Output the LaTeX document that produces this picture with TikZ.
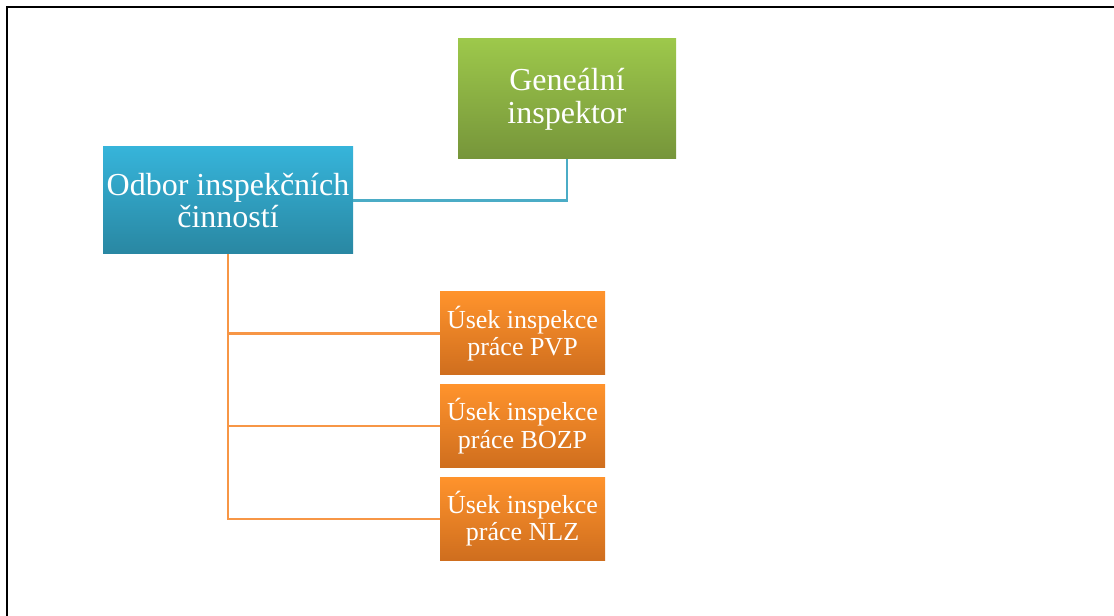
\documentclass[tikz,border=0pt]{standalone}
\usepackage{fontspec}
\setmainfont{Liberation Serif}
\usepackage{tikz}
\usetikzlibrary{positioning}

\definecolor{gentop}{HTML}{9DC84B}
\definecolor{genbot}{HTML}{76953A}
\definecolor{odbtop}{HTML}{36B4DA}
\definecolor{odbbot}{HTML}{2987A2}
\definecolor{usetop}{HTML}{FF932C}
\definecolor{usebot}{HTML}{CF6E1E}
\definecolor{bluelink}{HTML}{4BACC6}
\definecolor{orangelink}{HTML}{F79646}

\begin{document}
\begin{tikzpicture}[x=0.75pt, y=-0.75pt, node distance=6.75pt,
        block/.style={rectangle, text=white, align=center, inner sep=0pt},
        bigblock/.style={block, font=\fontsize{24pt}{24.5pt}\selectfont},
        gen/.style={bigblock, top color=gentop, bottom color=genbot, minimum width=163.5pt, minimum height=90pt},
        odbor/.style={bigblock, top color=odbtop, bottom color=odbbot, minimum width=187.5pt, minimum height=80.25pt},
        usek/.style={block, top color=usetop, bottom color=usebot, minimum width=123.75pt, minimum height=62.25pt,
            font=\fontsize{19.5pt}{20.5pt}\selectfont},
        link/.style={line width=1.6pt}]
        \useasboundingbox (0,0) rectangle (1114,616);
        \draw[line width=1.6pt] (7,640) |- (1140,7);

        \node[gen] (geninsp) at (567,99) {Geneální\\inspektor};
        \node[odbor] (odbor) at (228,200.5) {Odbor inspekčních\\činností};
        \node[usek] (pvp) at (522.5,333.5) {Úsek inspekce\\práce PVP};
        \node[usek, below=of pvp] (bozp) {Úsek inspekce\\práce BOZP};
        \node[usek, below=of bozp] (nlz) {Úsek inspekce\\práce NLZ};

        \draw[link, bluelink] (odbor.east) -| (geninsp.south);
        \draw[link, orangelink] (odbor.south) |- (pvp.west);
        \draw[link, orangelink] (odbor.south) |- (bozp.west);
        \draw[link, orangelink] (odbor.south) |- (nlz.west);
    \end{tikzpicture}
\end{document}
